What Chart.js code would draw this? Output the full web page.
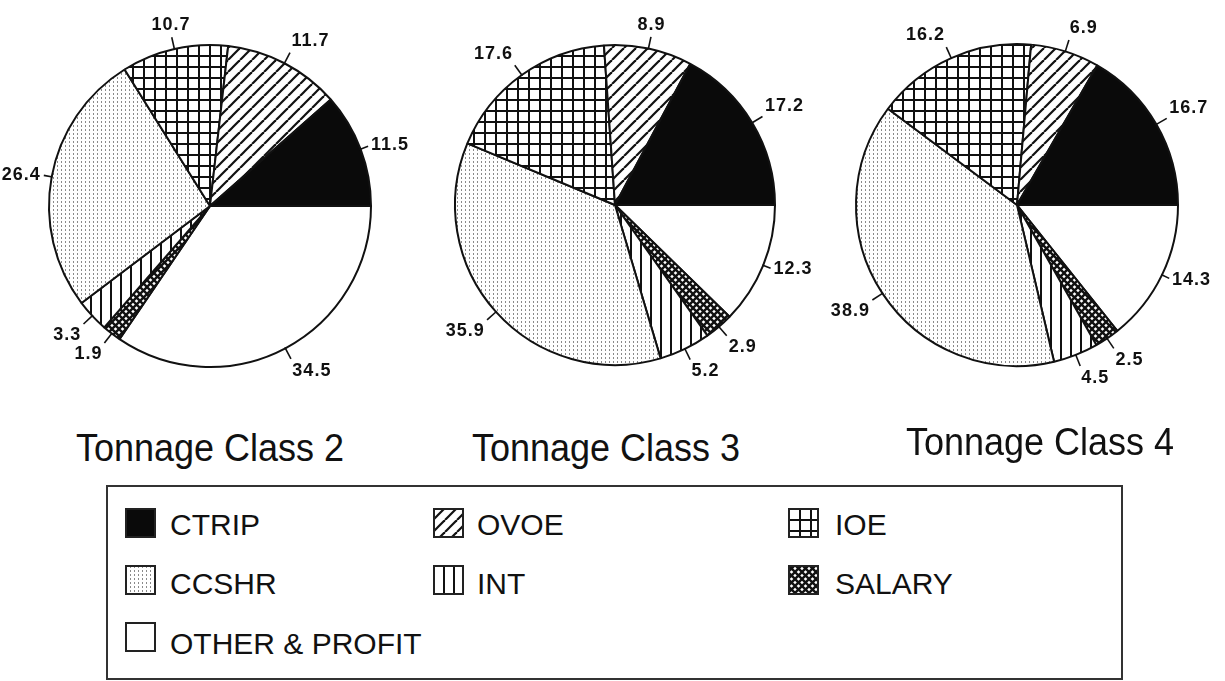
<!DOCTYPE html>
<html>
<head>
<meta charset="utf-8">
<script src="https://cdn.jsdelivr.net/npm/chart.js@4.4.0/dist/chart.umd.min.js"></script>
<style>
  body { margin: 0; background: #fff; width: 1225px; height: 681px; overflow: hidden; position: relative;
         font-family: "Liberation Sans", Arial, Helvetica, sans-serif; color: #111; }
  canvas.pie { position: absolute; left: 0; top: 0; pointer-events: none; }
  .title { position: absolute; width: 400px; text-align: center; font-size: 36px; line-height: 36px;
           transform: scaleY(1.08); transform-origin: 50% 100%; }
  #legend { position: absolute; left: 106px; top: 485px; width: 1013px; height: 191px; border: 2px solid #333; }
  #legend canvas { position: absolute; }
  #legend .lbl { position: absolute; font-size: 30px; line-height: 30px; white-space: nowrap; }
</style>
</head>
<body>
<canvas id="pie0" class="pie" width="1225" height="420"></canvas>
<canvas id="pie1" class="pie" width="1225" height="420"></canvas>
<canvas id="pie2" class="pie" width="1225" height="420"></canvas>
<div class="title" style="left:10px; top:431px;">Tonnage Class 2</div>
<div class="title" style="left:406px; top:431px;">Tonnage Class 3</div>
<div class="title" style="left:840px; top:425px;">Tonnage Class 4</div>
<div id="legend"></div>
<script>
// cost shares (%), order: counterclockwise from 3 o'clock
const categories = ["CTRIP", "OVOE", "IOE", "CCSHR", "INT", "SALARY", "OTHER & PROFIT"];
const class2 = [11.5, 11.7, 10.7, 26.4, 3.3, 1.9, 34.5];
const class3 = [17.2, 8.9, 17.6, 35.9, 5.2, 2.9, 12.3];
const class4 = [16.7, 6.9, 16.2, 38.9, 4.5, 2.5, 14.3];
const titles = ["Tonnage Class 2", "Tonnage Class 3", "Tonnage Class 4"];
const fills = ["solid", "diag", "grid", "dots", "vert", "cross", "white"];

function makePattern(kind) {
  if (kind === "solid") return "#0a0a0a";
  if (kind === "white") return "#ffffff";
  const c = document.createElement("canvas");
  const s = { diag: 12, grid: 11, dots: 4, vert: 10, cross: 7 }[kind];
  c.width = s; c.height = s;
  const g = c.getContext("2d");
  g.fillStyle = "#fff";
  g.fillRect(0, 0, s, s);
  g.fillStyle = "#111";
  g.strokeStyle = "#111";
  if (kind === "diag") {
    g.lineWidth = 2.2;
    for (const k of [-s, 0, s]) { g.beginPath(); g.moveTo(k, s); g.lineTo(k + s, 0); g.stroke(); }
  } else if (kind === "cross") {
    g.lineWidth = 2.4;
    for (const k of [-s, 0, s]) {
      g.beginPath(); g.moveTo(k, s); g.lineTo(k + s, 0); g.stroke();
      g.beginPath(); g.moveTo(k, 0); g.lineTo(k + s, s); g.stroke();
    }
  } else if (kind === "grid") {
    g.fillRect(0, 0, s, 2);
    g.fillRect(0, 0, 2, s);
  } else if (kind === "vert") {
    g.fillRect(0, 0, 2, s);
  } else if (kind === "dots") {
    g.fillStyle = "#8a8a8a";
    g.fillRect(1, 1, 1, 2);
  }
  return g.createPattern(c, "repeat");
}

const patterns = fills.map(makePattern);

const sliceLabels = {
  id: "sliceLabels",
  afterDatasetsDraw(chart) {
    const ctx = chart.ctx;
    const meta = chart.getDatasetMeta(0);
    const values = chart.data.datasets[0].data;
    ctx.save();
    ctx.strokeStyle = "#111";
    ctx.fillStyle = "#111";
    ctx.lineWidth = 1.6;
    ctx.font = 'bold 18px "Liberation Sans", Arial, sans-serif';
    ctx.letterSpacing = "1px";
    meta.data.forEach((arc, i) => {
      const p = arc.getProps(["x", "y", "startAngle", "endAngle", "outerRadius"], true);
      const mid = (p.startAngle + p.endAngle) / 2;
      const c = Math.cos(mid), s = Math.sin(mid);
      const r = p.outerRadius;
      const side = Math.abs(c) > 0.9;
      const lead = side ? 8 : 12;
      ctx.beginPath();
      ctx.moveTo(p.x + c * (r - 1), p.y + s * (r - 1));
      ctx.lineTo(p.x + c * (r + lead), p.y + s * (r + lead));
      ctx.stroke();
      const tx = p.x + c * (r + lead + 3), ty = p.y + s * (r + lead + 3);
      ctx.textAlign = c > 0.25 ? "left" : (c < -0.25 ? "right" : "center");
      ctx.textBaseline = s < -0.5 ? "bottom" : (s > 0.5 ? "top" : "middle");
      ctx.fillText(values[i].toFixed(1), tx, ty);
    });
    ctx.restore();
  }
};

const pies = [
  { id: "pie0", data: class2, cx: 210, cy: 206, r: 161 },
  { id: "pie1", data: class3, cx: 615, cy: 205, r: 160 },
  { id: "pie2", data: class4, cx: 1017, cy: 205, r: 161 }
];

pies.forEach(p => {
  const canvas = document.getElementById(p.id);
  const W = canvas.width, H = canvas.height;
  // Chart.js runs clockwise, the original goes counterclockwise from 3 o'clock
  const rev = a => a.slice().reverse();
  new Chart(canvas.getContext("2d"), {
    type: "pie",
    data: {
      labels: rev(categories),
      datasets: [{
        data: rev(p.data),
        backgroundColor: rev(patterns),
        borderColor: "#111",
        borderWidth: 2
      }]
    },
    options: {
      responsive: false,
      animation: false,
      events: [],
      rotation: 90,
      layout: {
        padding: {
          left: p.cx - p.r - 1,
          right: W - p.cx - p.r - 1,
          top: p.cy - p.r - 1,
          bottom: H - p.cy - p.r - 1
        }
      },
      plugins: { legend: { display: false }, tooltip: { enabled: false } }
    },
    plugins: [sliceLabels]
  });
});

// legend, three columns
const legend = document.getElementById("legend");
const colSwatch = [17, 325, 680];
const colText = [62, 369, 727];
const rowSwatch = [21, 78, 135];
const rowText = [23, 82, 142];
const order = [[0, 0, 0], [1, 0, 1], [2, 0, 2], [3, 1, 0], [4, 1, 1], [5, 1, 2], [6, 2, 0]];
order.forEach(([k, row, col]) => {
  const sw = document.createElement("canvas");
  sw.width = 31; sw.height = 30;
  sw.style.left = colSwatch[col] + "px";
  sw.style.top = rowSwatch[row] + "px";
  const g = sw.getContext("2d");
  g.fillStyle = patterns[k];
  g.fillRect(0, 0, 31, 30);
  g.strokeStyle = "#222";
  g.lineWidth = 2;
  g.strokeRect(1, 1, 29, 28);
  legend.appendChild(sw);
  const t = document.createElement("div");
  t.className = "lbl";
  t.textContent = categories[k];
  t.style.left = colText[col] + "px";
  t.style.top = rowText[row] + "px";
  legend.appendChild(t);
});
</script>
</body>
</html>
